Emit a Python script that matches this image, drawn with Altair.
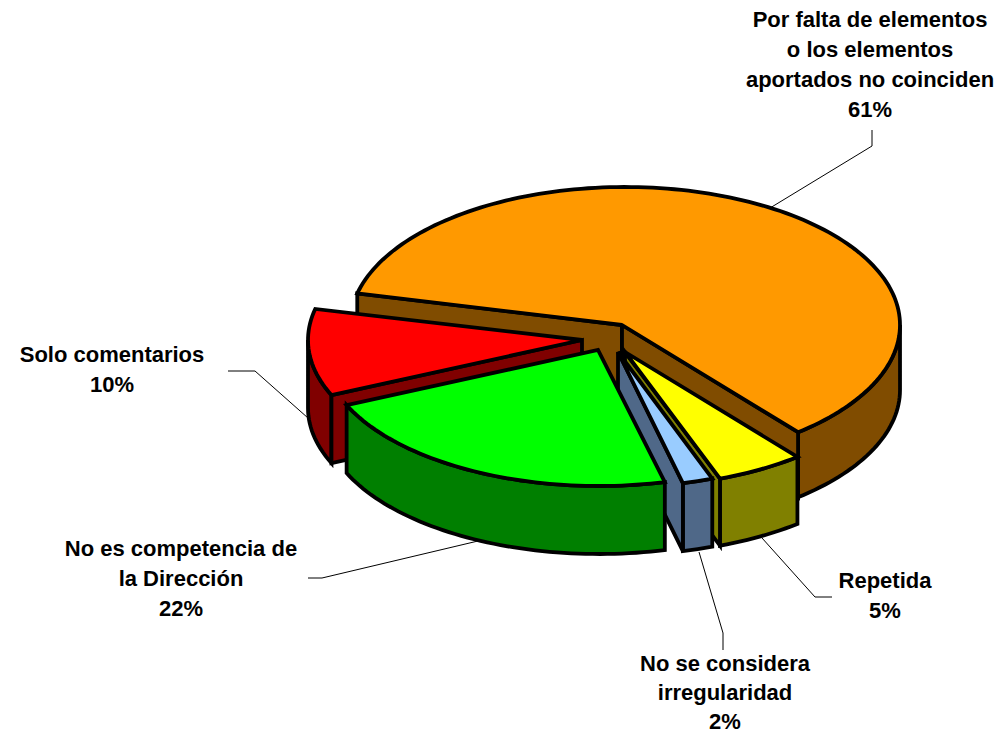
import math
import altair as alt
import pandas as pd

# --- data (clockwise from the cut at the lower right) ---
categories = ["Repetida", "No se considera irregularidad", "No es competencia de la Dirección",
              "Solo comentarios", "Por falta de elementos o los elementos aportados no coinciden"]
values = [5.2, 1.8, 22.2, 10.3, 60.5]
top_colors = ["#FFFF00", "#99CCFF", "#00FF00", "#FF0000", "#FF9900"]
side_colors = ["#808000", "#4F6888", "#007F00", "#800000", "#804C00"]

label_lines = [
    ["Repetida", "5%"],
    ["No se considera", "irregularidad", "2%"],
    ["No es competencia de", "la Dirección", "22%"],
    ["Solo comentarios", "10%"],
    ["Por falta de elementos", "o los elementos", "aportados no coinciden", "61%"],
]

# --- layout of the exploded 3-D pie (image pixels) ---
START_ANGLE = 51.0
# apex (ax, ay), ellipse centre (cx, cy), radii (a, b), wall depth, cut faces that face the viewer
slice_layout = [
    dict(ax=625, ay=352, cx=625, cy=352, a=274, b=135, depth=67, cuts=["far"]),          # yellow
    dict(ax=618, ay=352, cx=618, cy=352, a=272, b=135, depth=68, cuts=["far"]),          # blue
    dict(ax=598, ay=350, cx=599, cy=350, a=276, b=136, depth=68, cuts=[]),               # green
    dict(ax=582, ay=340, cx=582, cy=340, a=274, b=136, depth=68, cuts=["near"]),         # red
    dict(ax=622, ay=325, cx=625, cy=325, a=275, b=138, depth=65, cuts=["near", "far"]),  # orange
]
draw_order = [4, 0, 1, 3, 2]

label_pos = [
    (885, [588, 618]),
    (725, [671, 700, 729]),
    (181, [556, 586, 616]),
    (112, [362, 392]),
    (870, [27, 57, 87, 117]),
]
leader_paths = [
    [(832, 597), (815, 597), (762, 538)],
    [(723, 650), (723, 633), (699, 552)],
    [(308, 578), (322, 578), (478, 541)],
    [(228, 371), (255, 371), (308, 418)],
    [(872, 130), (872, 146), (770, 208)],
]

W, H = 988, 726
xs = alt.Scale(domain=[8, 996], nice=False, zero=False)
ys = alt.Scale(domain=[734, 8], nice=False, zero=False)


def pt(s, deg):
    r = math.radians(deg)
    return s["cx"] + s["a"] * math.cos(r), s["cy"] + s["b"] * math.sin(r)


def arc(s, a0, a1):
    n = max(2, int(abs(a1 - a0) / 1.5) + 1)
    return [pt(s, a0 + (a1 - a0) * i / (n - 1)) for i in range(n)]


def poly(points, fill):
    closed = list(points) + [points[0], points[1]]
    df = pd.DataFrame({"x": [p[0] for p in closed], "y": [p[1] for p in closed],
                       "i": list(range(len(closed)))})
    return alt.Chart(df).mark_line(fill=fill, stroke="#000000", strokeWidth=3.8,
                                   strokeJoin="miter", strokeCap="butt", clip=False).encode(
        x=alt.X("x:Q", scale=xs, axis=None),
        y=alt.Y("y:Q", scale=ys, axis=None),
        order=alt.Order("i:Q"),
    )


# angular extents derived from the values
spans = []
ang = START_ANGLE
total = sum(values)
for v in values:
    spans.append((ang, ang + v / total * 360))
    ang += v / total * 360

layers = []
for k in draw_order:
    s, (a0, a1), top, side = slice_layout[k], spans[k], top_colors[k], side_colors[k]
    apex = (s["ax"], s["ay"])
    d = s["depth"]
    # outer wall: only the part of the rim facing the viewer (0..180 deg, modulo 360)
    for lo, hi in [(0, 180), (360, 540)]:
        w0, w1 = max(a0, lo), min(a1, hi)
        if w1 > w0:
            rim = arc(s, w0, w1)
            wall = rim + [(x, y + d) for x, y in reversed(rim)]
            layers.append(poly(wall, side))
    # cut faces
    for cut in s["cuts"]:
        e = pt(s, a0 if cut == "near" else a1)
        layers.append(poly([apex, e, (e[0], e[1] + d), (apex[0], apex[1] + d)], side))
    # top surface
    layers.append(poly([apex] + arc(s, a0, a1), top))

# leader lines
for path in leader_paths:
    df = pd.DataFrame({"x": [p[0] for p in path], "y": [p[1] for p in path], "i": range(len(path))})
    layers.append(alt.Chart(df).mark_line(color="#000000", strokeWidth=1).encode(
        x=alt.X("x:Q", scale=xs, axis=None), y=alt.Y("y:Q", scale=ys, axis=None),
        order=alt.Order("i:Q")))

# labels
rows = []
for lines, (lx, lys) in zip(label_lines, label_pos):
    for t, ly in zip(lines, lys):
        rows.append({"x": lx, "y": ly, "t": t})
layers.append(alt.Chart(pd.DataFrame(rows)).mark_text(
    font="Liberation Sans", fontWeight="bold", fontSize=22, align="center",
    baseline="alphabetic", color="#000000").encode(
    x=alt.X("x:Q", scale=xs, axis=None), y=alt.Y("y:Q", scale=ys, axis=None), text="t:N"))

chart = alt.layer(*layers).properties(
    width=W, height=H, padding=0, autosize=alt.AutoSizeParams(type="none"),
    background="#FFFFFF",
).configure_view(stroke=None)

chart.save("out.html", embed_options={"renderer": "svg", "actions": False})
